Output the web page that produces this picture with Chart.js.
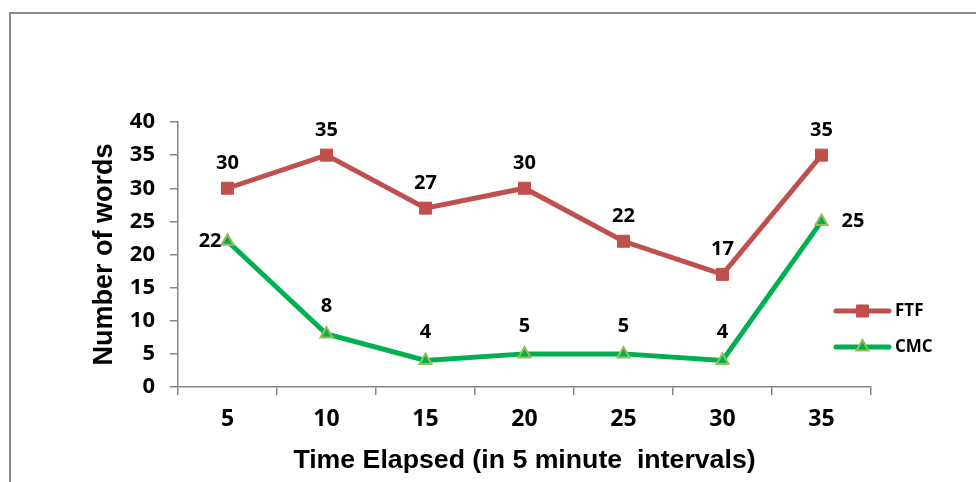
<!DOCTYPE html>
<html>
<head>
<meta charset="utf-8">
<script src="https://cdn.jsdelivr.net/npm/chart.js@4"></script>
<style>
  html, body { margin: 0; padding: 0; background: #fff; overflow: hidden; }
  #wrap { position: relative; width: 976px; height: 482px; }
  #frame { position: absolute; left: 9px; top: 12px; width: 1000px; height: 500px; border: 2px solid #8a8a8a; box-sizing: border-box; pointer-events: none; }
  canvas { position: absolute; left: 0; top: 0; }
</style>
</head>
<body>
<div id="wrap">
  <canvas id="chart" width="976" height="482"></canvas>
  <div id="frame"></div>
</div>
<script>
// Time elapsed (minutes) and word counts per condition
const intervals = ['5', '10', '15', '20', '25', '30', '35'];
const ftfWords = [30, 35, 27, 30, 22, 17, 35];
const cmcWords = [22, 8, 4, 5, 5, 4, 25];
const yTicks = [0, 5, 10, 15, 20, 25, 30, 35, 40];

const LABEL_FONT = '"Open Sans", "DejaVu Sans", sans-serif';
const TITLE_FONT = '"Liberation Sans", Arial, sans-serif';

// Value labels next to each point
const valueLabels = {
  id: 'valueLabels',
  afterDatasetsDraw(chart) {
    const ctx = chart.ctx;
    ctx.save();
    ctx.font = 'bold 20px ' + LABEL_FONT;
    ctx.fillStyle = '#000';
    chart.data.datasets.forEach((ds, i) => {
      const meta = chart.getDatasetMeta(i);
      meta.data.forEach((pt, j) => {
        const pos = ds.labelPos[j];
        const text = String(ds.data[j]);
        let x = pt.x, y = pt.y;
        ctx.textBaseline = 'middle';
        if (pos === 'left') { ctx.textAlign = 'right'; x -= 6; }
        else if (pos === 'right') { ctx.textAlign = 'left'; x += 20; }
        else { ctx.textAlign = 'center'; y -= ds.labelLift; }
        ctx.fillText(text, x, y);
      });
    });
    ctx.restore();
  }
};

// Legend drawn as line-with-marker samples at the right of the plot
const lineLegend = {
  id: 'lineLegend',
  afterDraw(chart, args, opts) {
    const ctx = chart.ctx;
    ctx.save();
    chart.data.datasets.forEach((ds, i) => {
      const y = opts.top + i * opts.gap;
      ctx.strokeStyle = ds.borderColor;
      ctx.lineWidth = ds.borderWidth;
      ctx.lineCap = 'round';
      ctx.beginPath();
      ctx.moveTo(opts.x1, y);
      ctx.lineTo(opts.x2, y);
      ctx.stroke();
      ctx.lineCap = 'butt';
      ctx.fillStyle = ds.pointBackgroundColor;
      ctx.strokeStyle = ds.pointBorderColor;
      ctx.lineWidth = ds.pointBorderWidth;
      Chart.helpers.drawPoint(ctx, {
        pointStyle: ds.pointStyle,
        radius: ds.pointRadius,
        borderWidth: ds.pointBorderWidth,
        rotation: 0
      }, (opts.x1 + opts.x2) / 2, y);
      ctx.fillStyle = '#000';
      ctx.font = 'bold 17px ' + LABEL_FONT;
      ctx.textAlign = 'left';
      ctx.textBaseline = 'middle';
      ctx.fillText(ds.label, opts.textX, y);
    });
    ctx.restore();
  }
};

new Chart(document.getElementById('chart'), {
  type: 'line',
  data: {
    labels: intervals,
    datasets: [
      {
        label: 'FTF',
        data: ftfWords,
        borderColor: '#C0504D',
        backgroundColor: '#C0504D',
        borderWidth: 5,
        pointStyle: 'rect',
        pointRadius: 8.5,
        pointBackgroundColor: '#C0504D',
        pointBorderColor: '#C0504D',
        pointBorderWidth: 1,
        tension: 0,
        labelPos: ['above', 'above', 'above', 'above', 'above', 'above', 'above'],
        labelLift: 25
      },
      {
        label: 'CMC',
        data: cmcWords,
        borderColor: '#00B050',
        backgroundColor: '#00B050',
        borderWidth: 5,
        pointStyle: 'triangle',
        pointRadius: 7,
        pointBackgroundColor: '#00B050',
        pointBorderColor: '#9BBB59',
        pointBorderWidth: 2,
        tension: 0,
        labelPos: ['left', 'above', 'above', 'above', 'above', 'above', 'right'],
        labelLift: 28
      }
    ]
  },
  options: {
    responsive: false,
    animation: false,
    events: [],
    clip: false,
    layout: { padding: { left: 88, top: 122, right: 105, bottom: 0 } },
    plugins: {
      legend: { display: false },
      tooltip: { enabled: false },
      lineLegend: { x1: 836, x2: 889, textX: 895, top: 311, gap: 36 }
    },
    scales: {
      x: {
        offset: true,
        grid: { offset: true, drawOnChartArea: false, drawTicks: true, tickLength: 8, color: '#868686', lineWidth: 1.5 },
        border: { color: '#868686', width: 1.5 },
        ticks: { color: '#000', font: { family: LABEL_FONT, size: 23, weight: 'bold' }, padding: 11, maxRotation: 0 },
        title: { display: true, text: 'Time Elapsed (in 5 minute  intervals)', color: '#000', font: { family: TITLE_FONT, size: 26.7, weight: 'bold' }, padding: { top: 0, bottom: 5 } },
        afterFit(scale) { scale.height = 95; }
      },
      y: {
        min: 0,
        max: 40,
        afterBuildTicks(scale) { scale.ticks = yTicks.map(v => ({ value: v })); },
        grid: { drawOnChartArea: false, drawTicks: true, tickLength: 8, color: '#868686', lineWidth: 1.5 },
        border: { color: '#868686', width: 1.5 },
        ticks: { color: '#000', font: { family: LABEL_FONT, size: 22, weight: 'bold' }, padding: 15 },
        title: { display: true, text: 'Number of words', color: '#000', font: { family: TITLE_FONT, size: 27, weight: 'bold' }, padding: { top: 0, bottom: 0 } },
        afterFit(scale) { scale.width = 90; }
      }
    }
  },
  plugins: [valueLabels, lineLegend]
});
</script>
</body>
</html>
